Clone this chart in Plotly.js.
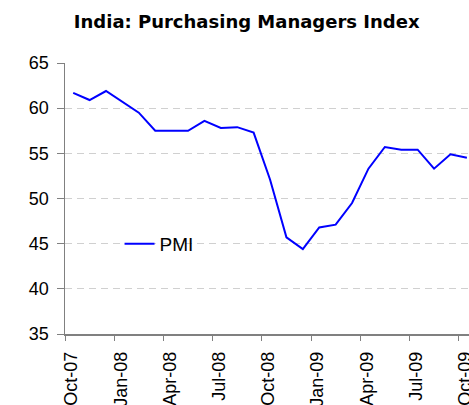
<!DOCTYPE html>
<html><head><meta charset="utf-8">
<script src="https://cdn.plot.ly/plotly-3.0.1.min.js"></script>
<style>html,body{margin:0;padding:0;background:#fff;overflow:hidden}#chart{width:469px;height:405px}</style>
</head><body><div id="chart"></div>
<script>
const months = ['Oct-07','Nov-07','Dec-07','Jan-08','Feb-08','Mar-08','Apr-08','May-08','Jun-08','Jul-08','Aug-08','Sep-08',
  'Oct-08','Nov-08','Dec-08','Jan-09','Feb-09','Mar-09','Apr-09','May-09','Jun-09','Jul-09','Aug-09','Sep-09','Oct-09'];
const pmi = [61.7,60.9,61.9,60.7,59.5,57.5,57.5,57.5,58.6,57.8,57.9,57.3,
  52.1,45.7,44.4,46.8,47.1,49.5,53.3,55.7,55.4,55.4,53.3,54.9,54.5];
const tickLabels = ['Oct-07','Jan-08','Apr-08','Jul-08','Oct-08','Jan-09','Apr-09','Jul-09','Oct-09'];
const yTicks = [35,40,45,50,55,60,65];

const tickMonths = tickLabels.map(l => months.indexOf(l));
const xPos = months.map((m, i) => i + 0.5);

const trace = {
  x: xPos, y: pmi, type: 'scatter', mode: 'lines', name: 'PMI',
  line: {color: '#0000ff', width: 2}, hoverinfo: 'skip'
};

const layout = {
  width: 469, height: 405,
  margin: {l: 65, r: 0, t: 63, b: 71, pad: 0},
  paper_bgcolor: '#ffffff', plot_bgcolor: '#ffffff',
  title: {
    text: 'India: Purchasing Managers Index',
    font: {family: 'DejaVu Sans', size: 18, weight: 'bold', color: '#000'},
    xref: 'container', x: 0.526, xanchor: 'center',
    yref: 'container', y: 0.946, yanchor: 'middle'
  },
  showlegend: true,
  legend: {
    x: 0.135, xanchor: 'left', y: 0.3325, yanchor: 'middle',
    bgcolor: 'rgba(0,0,0,0)', borderwidth: 0,
    font: {family: 'Liberation Sans, Arial', size: 19, color: '#000'}
  },
  xaxis: {
    range: [0, 24.63], tickmode: 'array',
    tickvals: tickMonths.map(v => v + 0.4), ticktext: tickLabels,
    ticks: '', tickangle: -90, ticklabelstandoff: 9, ticklabeloverflow: 'allow',
    tickfont: {family: 'Liberation Sans, Arial', size: 18, color: '#000'},
    showgrid: false, zeroline: false, showline: true, linecolor: '#808080', linewidth: 1.5,
    minor: {tickmode: 'array', tickvals: tickMonths, ticks: 'outside', ticklen: 5, tickcolor: '#808080', tickwidth: 1, showgrid: false},
    fixedrange: true
  },
  yaxis: {
    range: [35, 65], tickmode: 'array', tickvals: yTicks,
    ticks: 'outside', ticklen: 7, tickcolor: '#808080', tickwidth: 1, ticklabelstandoff: 4,
    tickfont: {family: 'Liberation Sans, Arial', size: 18, color: '#000'},
    showgrid: true, gridcolor: '#d0d0d0', griddash: '7px,5px', gridwidth: 1,
    zeroline: false, showline: true, linecolor: '#808080', linewidth: 1.5,
    fixedrange: true
  }
};

Plotly.newPlot('chart', [trace], layout, {staticPlot: true, displayModeBar: false});
</script></body></html>
